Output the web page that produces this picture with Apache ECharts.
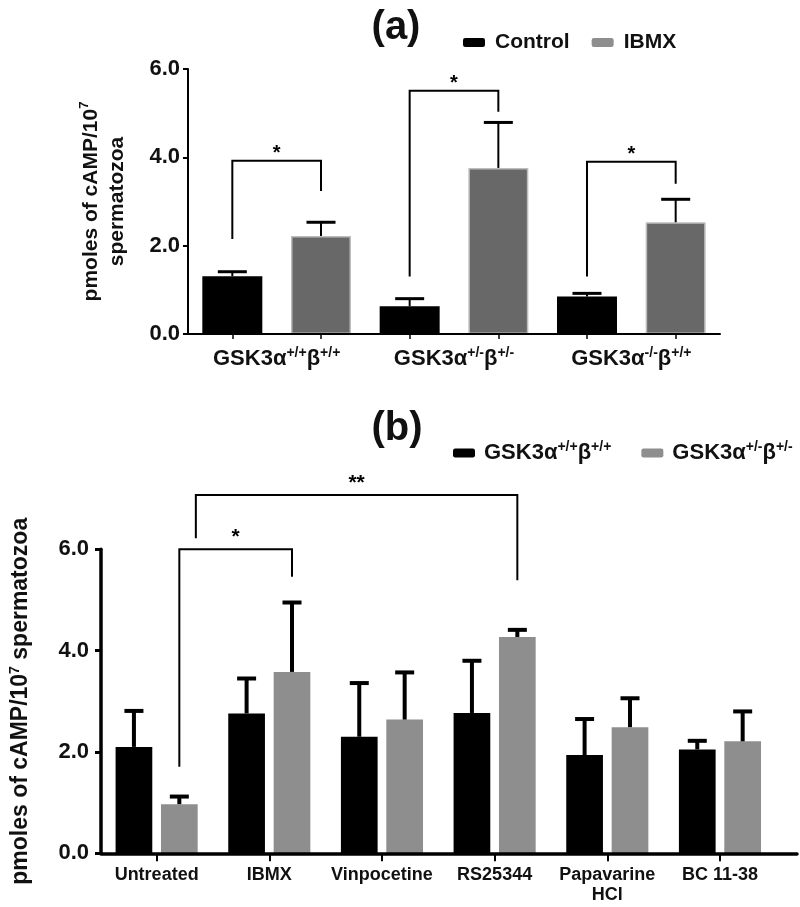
<!DOCTYPE html>
<html><head><meta charset="utf-8">
<script src="https://cdn.jsdelivr.net/npm/echarts@6/dist/echarts.min.js"></script>
<style>html,body{margin:0;padding:0;background:#fff}#c{width:800px;height:907px}</style>
</head><body><div id="c"></div>
<script>
// ---------- Panel (a) data ----------
const catsA = ['GSK3α+/+β+/+', 'GSK3α+/-β+/-', 'GSK3α-/-β+/+'];
const controlA = [1.31, 0.63, 0.85];
const controlAErr = [0.10, 0.17, 0.07];
const ibmxA = [2.22, 3.76, 2.53];
const ibmxAErr = [0.31, 1.03, 0.52];
const yTicksA = [0, 2, 4, 6];
// brackets: [leftCat, leftSlot, leftBottom, top, rightCat, rightSlot, rightBottom]
const sigA = [
  [0, 0, 2.15, 3.92, 0, 1, 3.24],
  [1, 0, 1.30, 5.51, 1, 1, 5.03],
  [2, 0, 1.30, 3.90, 2, 1, 3.40]
];
const sigALabels = ['*', '*', '*'];

// ---------- Panel (b) data ----------
const catsB = ['Untreated', 'IBMX', 'Vinpocetine', 'RS25344', 'Papavarine\nHCl', 'BC 11-38'];
const seriesNamesB = ['GSK3α+/+β+/+', 'GSK3α+/-β+/-'];
const wtB = [2.10, 2.76, 2.30, 2.77, 1.94, 2.05];
const wtBErr = [0.71, 0.69, 1.06, 1.03, 0.71, 0.17];
const hetB = [0.97, 3.58, 2.64, 4.27, 2.49, 2.21];
const hetBErr = [0.15, 1.37, 0.93, 0.14, 0.57, 0.59];
const yTicksB = [0, 2, 4, 6];
const sigB = [
  [0, 1, 1.71, 6.00, 1, 1, 5.46],
  [0, 1.45, 6.22, 7.07, 3, 1, 5.39]
];
const sigBLabels = ['*', '**'];

// ---------- styling ----------
const FONT = '"Liberation Sans", Arial, Helvetica, sans-serif';
const TXT = '#111';
const BW_A = 60, GAP_A = 0.478;
const BW_B = 36.7, GAP_B = 0.237;

function richLabel(name) {
  const m = name.match(/^(GSK3α)([^β]*)(β)(.*)$/);
  if (!m) return name;
  return '{m|' + m[1] + '}{s|' + m[2] + '}{m|' + m[3] + '}{s|' + m[4] + '}';
}
function richStyles(main, sup, lh) {
  return {
    m: {fontSize: main, fontWeight: 'bold', fontFamily: FONT, color: TXT, lineHeight: lh},
    s: {fontSize: sup, fontWeight: 'bold', fontFamily: FONT, color: TXT, lineHeight: sup, verticalAlign: 'top'}
  };
}
function slotOffset(slot, bw, gap) {
  const fl = Math.floor(slot);
  return (fl - 0.5) * bw * (1 + gap) + (slot - fl) * bw;
}
function errSeries(xi, yi, vals, errs, slot, bw, gap, lw, capW, capLw) {
  return {
    type: 'custom', xAxisIndex: xi, yAxisIndex: yi, z: 5, silent: true, clip: false,
    data: vals.map((v, i) => [i, v, v + errs[i]]),
    renderItem(params, api) {
      const cat = api.value(0);
      const base = api.coord([cat, api.value(1)]);
      const top = api.coord([cat, api.value(2)]);
      const x = base[0] + slotOffset(slot, bw, gap);
      return {type: 'group', children: [
        {type: 'line', shape: {x1: x, y1: base[1], x2: x, y2: top[1]}, style: {stroke: '#000', lineWidth: lw}},
        {type: 'line', shape: {x1: x - capW / 2, y1: top[1], x2: x + capW / 2, y2: top[1]}, style: {stroke: '#000', lineWidth: capLw}}
      ]};
    }
  };
}
function sigSeries(xi, yi, sig, labels, bw, gap, lw, fontSize, textGap) {
  return {
    type: 'custom', xAxisIndex: xi, yAxisIndex: yi, z: 6, silent: true, clip: false,
    data: sig.map(s => [s[0], s[3]]),
    renderItem(params, api) {
      const s = sig[params.dataIndex];
      const px = (cat, slot, y) => {
        const c = api.coord([cat, y]);
        return [c[0] + slotOffset(slot, bw, gap), c[1]];
      };
      const a = px(s[0], s[1], s[2]), b = px(s[0], s[1], s[3]);
      const c = px(s[4], s[5], s[3]), d = px(s[4], s[5], s[6]);
      return {type: 'group', children: [
        {type: 'polyline', shape: {points: [a, b, c, d]}, style: {stroke: '#000', lineWidth: lw, fill: null}},
        {type: 'text', x: (b[0] + c[0]) / 2, y: b[1] - textGap,
          style: {text: labels[params.dataIndex], fontSize: fontSize, fontWeight: 'bold', fontFamily: FONT,
            fill: '#000', align: 'center', verticalAlign: 'middle'}}
      ]};
    }
  };
}

const option = {
  backgroundColor: '#fff',
  animation: false,
  title: [
    {text: '(a)', left: 391, top: 3, textAlign: 'center',
      textStyle: {fontSize: 40, fontWeight: 'bold', fontFamily: FONT, color: TXT}},
    {text: '(b)', left: 392, top: 404, textAlign: 'center',
      textStyle: {fontSize: 40, fontWeight: 'bold', fontFamily: FONT, color: TXT}}
  ],
  legend: [
    {
      data: [{name: 'Control', itemStyle: {color: '#000'}}, {name: 'IBMX', itemStyle: {color: '#8e8e8e', borderWidth: 0}}],
      left: 458, top: 27, itemWidth: 22, itemHeight: 9, icon: 'roundRect', itemGap: 22,
      textStyle: {fontSize: 21, fontWeight: 'bold', fontFamily: FONT, color: TXT, padding: [0, 0, 0, 5]}
    },
    {
      data: [{name: seriesNamesB[0], itemStyle: {color: '#000'}}, {name: seriesNamesB[1], itemStyle: {color: '#8e8e8e'}}],
      left: 448, top: 435, itemWidth: 22, itemHeight: 9, icon: 'roundRect', itemGap: 30,
      formatter: richLabel,
      textStyle: {fontFamily: FONT, color: TXT, padding: [0, 0, 0, 4], rich: richStyles(22, 14, 26)}
    }
  ],
  grid: [
    {left: 188, right: 80, top: 69, bottom: 573},
    {left: 100.3, right: 23.7, top: 549.3, bottom: 53.7},
    {left: 94.3, right: 3, top: 549.3, bottom: 53.7}
  ],
  xAxis: [
    {type: 'category', gridIndex: 0, data: catsA, position: 'bottom', z: 10,
      axisLine: {lineStyle: {color: '#000', width: 2}},
      axisTick: {show: false},
      axisLabel: {interval: 0, margin: 12, formatter: richLabel, rich: richStyles(22, 14, 26)}},
    {type: 'category', gridIndex: 0, position: 'bottom',
      data: catsA.flatMap(c => [c + ' Control', c + ' IBMX']),
      axisLine: {show: false},
      axisTick: {show: true, interval: 0, alignWithLabel: true, length: 5, lineStyle: {color: '#000', width: 1.5}},
      axisLabel: {show: false}},
    {type: 'category', gridIndex: 1, data: catsB, position: 'bottom',
      axisLine: {show: false},
      axisTick: {show: true, interval: 0, alignWithLabel: true, length: 8, lineStyle: {color: '#000', width: 2}},
      axisLabel: {interval: 0, margin: 12, fontSize: 18, fontWeight: 'bold', fontFamily: FONT, color: TXT, lineHeight: 20}},
    {type: 'value', gridIndex: 2, min: 0, max: 1, position: 'bottom', z: 10,
      axisLine: {show: true, lineStyle: {color: '#000', width: 3.5}},
      axisTick: {show: false}, axisLabel: {show: false}, splitLine: {show: false}}
  ],
  yAxis: [
    {type: 'value', gridIndex: 0, min: yTicksA[0], max: yTicksA[yTicksA.length - 1], interval: yTicksA[1] - yTicksA[0],
      axisLine: {show: true, lineStyle: {color: '#000', width: 2}},
      axisTick: {show: true, length: 5, lineStyle: {color: '#000', width: 2}},
      splitLine: {show: false},
      axisLabel: {margin: 8, fontSize: 22, fontWeight: 'bold', fontFamily: FONT, color: TXT, formatter: v => v.toFixed(1)},
      name: '{m|pmoles of cAMP/10}{s|7}\n{m|spermatozoa}', nameLocation: 'middle', nameGap: 58, nameRotate: 90,
      nameTextStyle: {rich: richStyles(21, 13, 26)}},
    {type: 'value', gridIndex: 1, show: false, min: yTicksB[0], max: yTicksB[yTicksB.length - 1], interval: yTicksB[1] - yTicksB[0],
      splitLine: {show: false}},
    {type: 'value', gridIndex: 2, min: yTicksB[0], max: yTicksB[yTicksB.length - 1], interval: yTicksB[1] - yTicksB[0],
      axisLine: {show: true, lineStyle: {color: '#000', width: 3.5}},
      axisTick: {show: true, length: 6, lineStyle: {color: '#000', width: 3}},
      splitLine: {show: false},
      axisLabel: {margin: 12, fontSize: 22, fontWeight: 'bold', fontFamily: FONT, color: TXT, formatter: v => v.toFixed(1)},
      name: '{m|pmoles of cAMP/10}{s|7}{m| spermatozoa}', nameLocation: 'middle', nameGap: 67, nameRotate: 90,
      nameTextStyle: {rich: richStyles(23, 14, 26)}}
  ],
  series: [
    {type: 'bar', name: 'Control', xAxisIndex: 0, yAxisIndex: 0, data: controlA, barWidth: BW_A, barGap: (GAP_A * 100) + '%',
      itemStyle: {color: '#000'}},
    {type: 'bar', name: 'IBMX', xAxisIndex: 0, yAxisIndex: 0, data: ibmxA, barWidth: BW_A, barGap: (GAP_A * 100) + '%',
      itemStyle: {color: '#686868', borderColor: '#bdbdbd', borderWidth: 1.5}},
    errSeries(0, 0, controlA, controlAErr, 0, BW_A, GAP_A, 2, 29, 3),
    errSeries(0, 0, ibmxA, ibmxAErr, 1, BW_A, GAP_A, 2, 29, 3),
    sigSeries(0, 0, sigA, sigALabels, BW_A, GAP_A, 2, 20, 7),

    {type: 'bar', name: seriesNamesB[0], xAxisIndex: 2, yAxisIndex: 1, data: wtB, barWidth: BW_B, barGap: (GAP_B * 100) + '%',
      itemStyle: {color: '#000'}},
    {type: 'bar', name: seriesNamesB[1], xAxisIndex: 2, yAxisIndex: 1, data: hetB, barWidth: BW_B, barGap: (GAP_B * 100) + '%',
      itemStyle: {color: '#8e8e8e'}},
    errSeries(2, 1, wtB, wtBErr, 0, BW_B, GAP_B, 4, 19, 4),
    errSeries(2, 1, hetB, hetBErr, 1, BW_B, GAP_B, 4, 19, 4),
    sigSeries(2, 1, sigB, sigBLabels, BW_B, GAP_B, 2, 21, 12)
  ]
};
const chart = echarts.init(document.getElementById('c'), null, {renderer: 'canvas'});
chart.setOption(option);
</script></body></html>
